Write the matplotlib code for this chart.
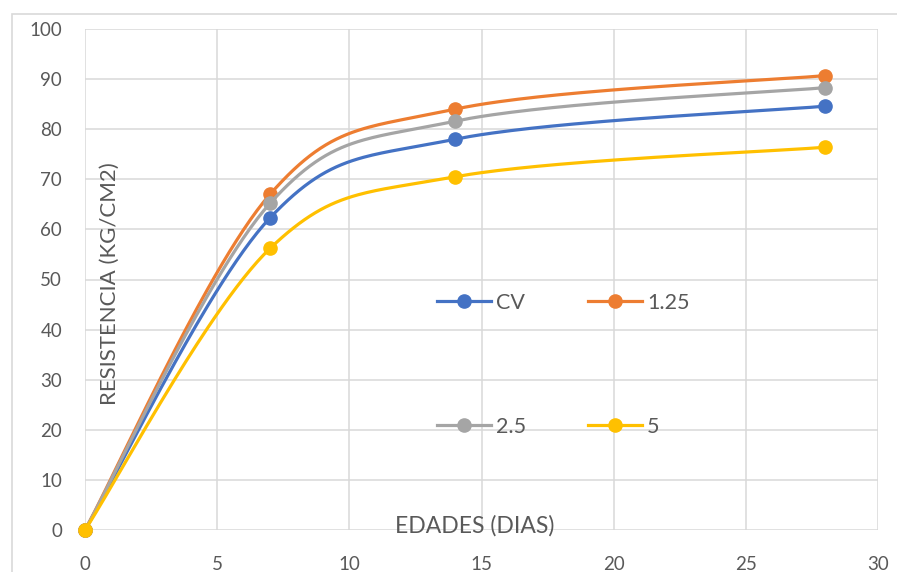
import matplotlib
import matplotlib.pyplot as plt
import numpy as np
from matplotlib.patches import Rectangle

matplotlib.use('Agg')

days = [0, 7, 14, 28]
series_names = ['CV', '1.25', '2.5', '5']
cv = [0, 62.3, 78.0, 84.6]
c125 = [0, 67.0, 84.0, 90.7]
c25 = [0, 65.2, 81.6, 88.3]
c5 = [0, 56.2, 70.5, 76.4]
colors = ['#4472C4', '#ED7D31', '#A5A5A5', '#FFC000']


def smooth(xs, ys, n=60):
    # catmull-rom as bezier, like excel's smoothed line
    p = np.column_stack([xs, ys]).astype(float)
    p = np.vstack([p[0], p, p[-1]])
    out = []
    for i in range(1, len(p) - 2):
        p0, p1, p2, p3 = p[i - 1], p[i], p[i + 1], p[i + 2]
        c1 = p1 + (p2 - p0) / 6
        c2 = p2 - (p3 - p1) / 6
        t = np.linspace(0, 1, n)[:, None]
        seg = ((1 - t) ** 3) * p1 + 3 * ((1 - t) ** 2) * t * c1 + 3 * (1 - t) * t ** 2 * c2 + t ** 3 * p2
        out.append(seg)
    out = np.vstack(out)
    return out[:, 0], out[:, 1]


plt.rcParams['font.family'] = ['Lato', 'DejaVu Sans']

W, H = 897, 572
fig = plt.figure(figsize=(W / 100, H / 100), dpi=100)
fig.patches.append(Rectangle((12 / W, -0.2), 1.2, 1.2 - 14 / H, transform=fig.transFigure,
                             fill=False, edgecolor='#d9d9d9', linewidth=1.2))

ax = fig.add_axes([85 / W, 42 / H, 793 / W, 501 / H])
handles = {}
for name, vals, col in zip(series_names, [cv, c125, c25, c5], colors):
    sx, sy = smooth(days, vals)
    ax.plot(sx, sy, color=col, linewidth=2.3, solid_capstyle='round', zorder=3, clip_on=False)
    ax.plot(days, vals, linestyle='none', marker='o', markersize=9.5, color=col, zorder=3,
            clip_on=False)
    handles[name], = ax.plot([], [], color=col, linewidth=2.3, marker='o', markersize=9.5)

ax.set_xlim(0, 30)
ax.set_ylim(0, 100)
ax.set_xticks(range(0, 31, 5))
ax.set_yticks(range(0, 101, 10))
ax.grid(True, color='#d9d9d9', linewidth=1.1)
ax.set_axisbelow(True)
for s in ax.spines.values():
    s.set_visible(False)
ax.tick_params(length=0, labelsize=13.5, labelcolor='#595959')
ax.tick_params(axis='y', pad=16.5)
ax.tick_params(axis='x', pad=18.5)

ax.text(0.031, 0.491, 'RESISTENCIA (KG/CM2)', transform=ax.transAxes, rotation=90,
        ha='center', va='center', fontsize=16, color='#595959')
ax.text(0.492, -0.006, 'EDADES (DIAS)', transform=ax.transAxes,
        ha='center', va='baseline', fontsize=16.5, color='#595959')

# legend is filled column by column, so order it to read CV, 1.25 / 2.5, 5 by rows
order = ['CV', '2.5', '1.25', '5']
leg = ax.legend([handles[k] for k in order], order, loc='upper left',
                bbox_to_anchor=(0.444, 0.474), ncol=2, frameon=False,
                fontsize=15.5, handlelength=2.5, handletextpad=0.23, columnspacing=2.9,
                labelspacing=4.84, borderpad=0, borderaxespad=0)
for t in leg.get_texts():
    t.set_color('#595959')

fig.savefig('out.png', dpi=100)
